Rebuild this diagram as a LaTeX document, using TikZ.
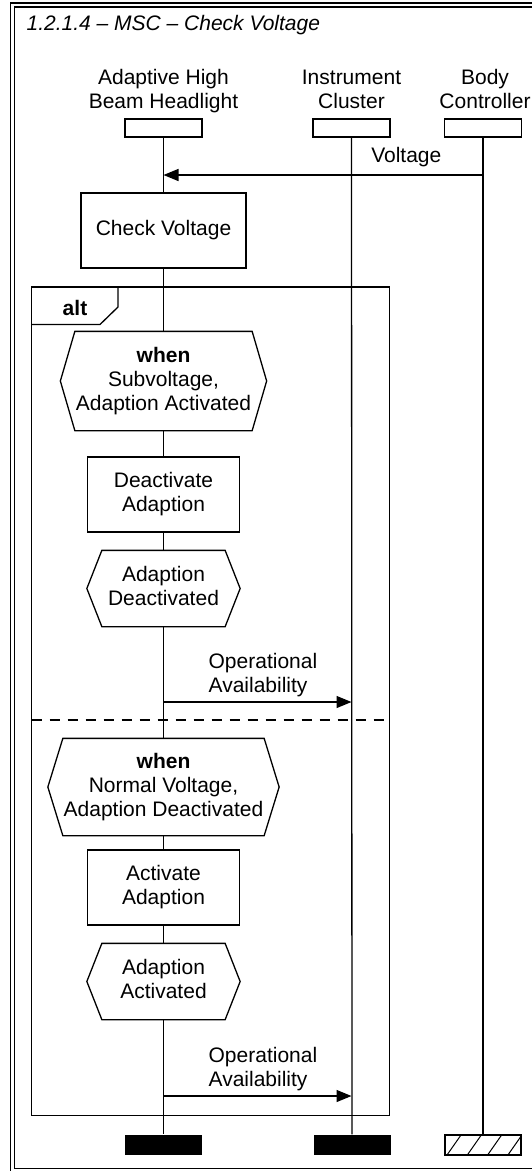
\documentclass[tikz,border=0pt]{standalone}
\usepackage{fontspec}
\setmainfont{Liberation Sans}
\usetikzlibrary{arrows.meta}
\newcommand\hexdraw[2]{\draw ([xshift=#2pt]#1.north west) -- ([xshift=-#2pt]#1.north east) -- (#1.east) -- ([xshift=-#2pt]#1.south east) -- ([xshift=#2pt]#1.south west) -- (#1.west) -- cycle;}
\begin{document}
\begin{tikzpicture}[x=1pt,y=-1pt,
  line width=1.3pt,
  txt/.style={font=\fontsize{21}{24}\selectfont, inner sep=0pt, text depth=4.5pt, align=center},
  hdrbox/.style={draw, minimum width=77pt, minimum height=18pt, inner sep=0pt},
  actbox/.style={draw, txt, minimum width=152pt, minimum height=75pt},
  hexnode/.style={txt},
  msg/.style={-{Triangle[length=15pt,width=12pt]}},
  bar/.style={fill=black, minimum width=77pt, minimum height=20pt, inner sep=0pt},
]
\useasboundingbox (0,0) rectangle (531,1171);
% frame
\draw (10.5,3) rectangle (537,1173);
\draw (14.5,7) rectangle (533,1168.5);
\node[anchor=base west, inner sep=0pt, font=\fontsize{21}{24}\selectfont\itshape] (title) at (26,30.5) {1.2.1.4 -- MSC -- Check Voltage};
% headers
\node[txt, anchor=north] (lblA) at (163.5,69) {Adaptive High\\Beam Headlight};
\node[txt, anchor=north] (lblI) at (351.5,69) {Instrument\\Cluster};
\node[txt, anchor=north] (lblB) at (485,69) {Body\\Controller};
\node[hdrbox] (hdrA) at (163.5,128) {};
\node[hdrbox] (hdrI) at (351.5,128) {};
\node[hdrbox] (hdrB) at (483,128) {};
% voltage message
\coordinate (vB) at (483,175);
\coordinate (vA) at (163.5,175);
\draw[msg] (vB) -- (vA);
\node[anchor=base east, inner sep=0pt, font=\fontsize{21}{24}\selectfont] (vlbl) at (442,162) {Voltage};
% check voltage
\node[draw, txt, minimum width=165pt, minimum height=75pt] (check) at (163.5,230.5) {Check Voltage};
% alt frame
\draw (31.5,287) rectangle (389.5,1115.5);
\draw (31.5,324.5) -- (100,324.5) -- (118,307) -- (118,287);
\node[anchor=base, inner sep=0pt, font=\fontsize{21}{24}\selectfont\bfseries] (altlbl) at (75,315) {alt};
\draw[dash pattern=on 10pt off 8pt] (31.5,720) -- (389.5,720);
% first operand
\node[hexnode, minimum width=205pt, minimum height=98pt] (hex1) at (163.5,381) {\textbf{when}\\Subvoltage,\\Adaption Activated};
\hexdraw{hex1}{14.5}
\node[actbox] (deact) at (163.5,494.5) {Deactivate\\Adaption};
\node[hexnode, minimum width=152pt, minimum height=75pt] (hexAD) at (163.5,588.5) {Adaption\\Deactivated};
\hexdraw{hexAD}{15}
\coordinate (o1s) at (163.5,702);
\coordinate (o1e) at (351.5,702);
\draw[msg] (o1s) -- (o1e);
\node[txt, align=left, anchor=north west] (o1lbl) at (208,653) {Operational\\Availability};
% second operand
\node[hexnode, minimum width=230pt, minimum height=96pt] (hex2) at (163.5,787) {\textbf{when}\\Normal Voltage,\\Adaption Deactivated};
\hexdraw{hex2}{15}
\node[actbox] (act) at (163.5,887.5) {Activate\\Adaption};
\node[hexnode, minimum width=152pt, minimum height=75pt] (hexAA) at (163.5,981.5) {Adaption\\Activated};
\hexdraw{hexAA}{15}
\coordinate (o2s) at (163.5,1096);
\coordinate (o2e) at (351.5,1096);
\draw[msg] (o2s) -- (o2e);
\node[txt, align=left, anchor=north west] (o2lbl) at (208,1047) {Operational\\Availability};
% bars
\node[bar] (barA) at (163.5,1145) {};
\node[bar] (barI) at (352,1145) {};
\node[draw, minimum width=76pt, minimum height=20pt, inner sep=0pt] (barB) at (483,1145) {};
\begin{scope}
\clip (barB.south west) rectangle (barB.north east);
\foreach \k in {0,...,4} \draw[line width=1pt] (447+20.3*\k,1155) -- (461+20.3*\k,1135);
\end{scope}
% lifelines
\draw (hdrA) -- (check);
\draw (check) -- (hex1);
\draw (hex1) -- (deact);
\draw (deact) -- (hexAD);
\draw (hexAD) -- (hex2);
\draw (hex2) -- (act);
\draw (act) -- (hexAA);
\draw (hexAA) -- (barA);
\draw (hdrI) -- (barI);
\draw (hdrB) -- (barB);
\end{tikzpicture}
\end{document}
